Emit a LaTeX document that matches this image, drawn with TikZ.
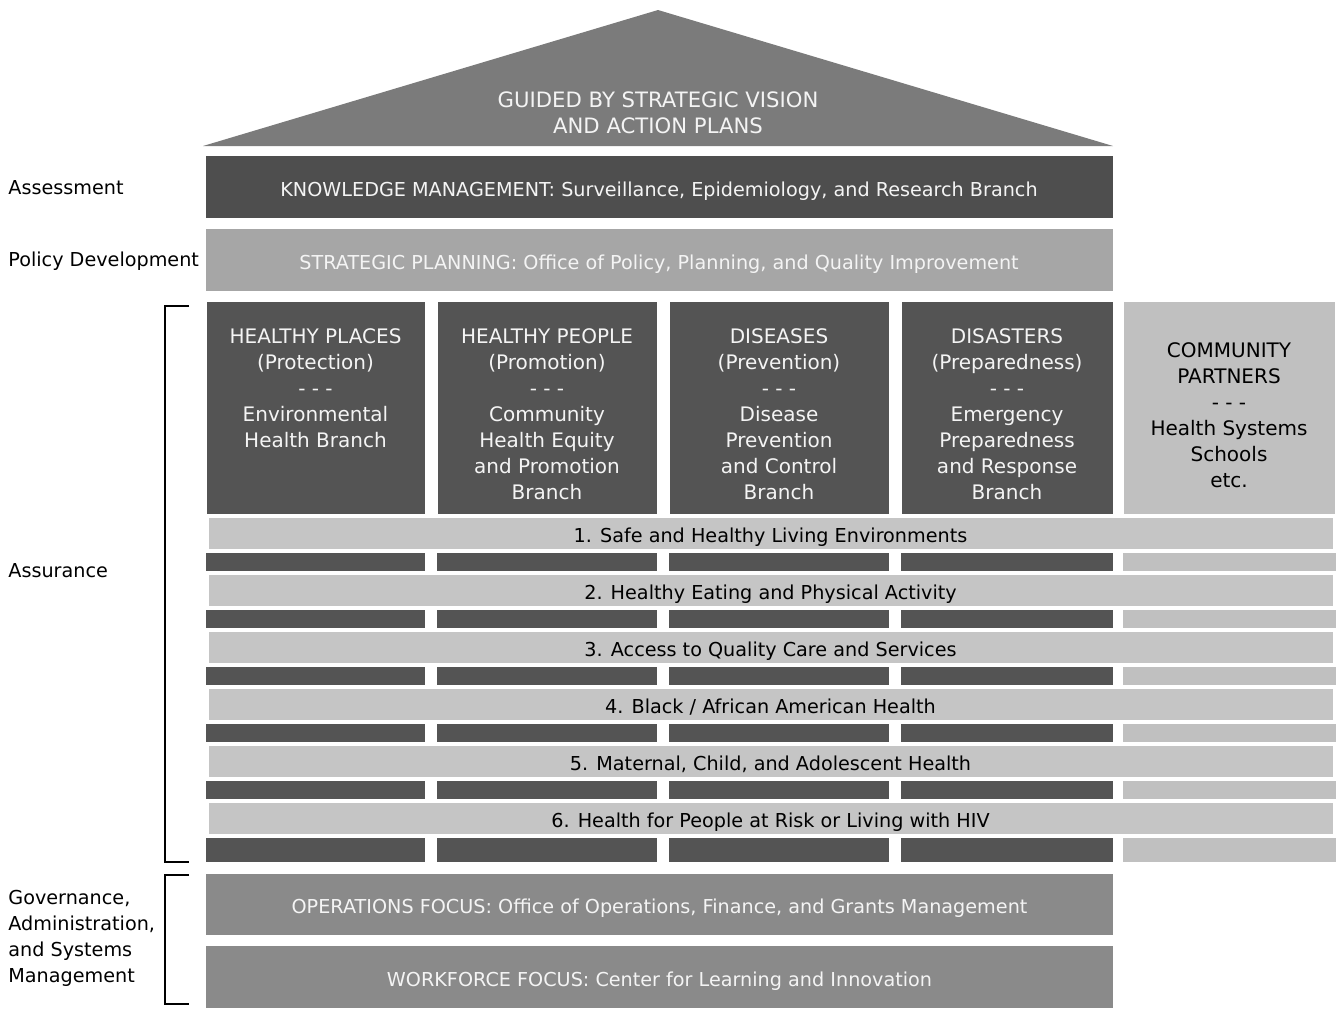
\documentclass[tikz,border=0pt]{standalone}
\usepackage{fontspec}
\setmainfont{DejaVu Sans}
\usepackage{xcolor}
\usepackage{tikz}
\usetikzlibrary{positioning}

\definecolor{roofgray}{HTML}{7B7B7B}
\definecolor{kmgray}{HTML}{4E4E4E}
\definecolor{spgray}{HTML}{A6A6A6}
\definecolor{colgray}{HTML}{545454}
\definecolor{bargray}{HTML}{C5C5C5}
\definecolor{cpgray}{HTML}{C0C0C0}
\definecolor{opsgray}{HTML}{8A8A8A}
\definecolor{paletext}{HTML}{F4F4F4}

\begin{document}
\begin{tikzpicture}[
    x = 0.5pt,
    y = -0.5pt,
    font = \fontsize{9.6}{13}\selectfont]
    \tikzstyle{block}=[rectangle,inner sep=0pt,draw=white,line width=0.3pt]
    \tikzstyle{wide}=[block,minimum width=454pt,text=paletext,text height=9.5pt,text depth=0pt]
    \tikzstyle{colbox}=[block,fill=colgray,minimum height=106.5pt]
    \tikzstyle{coltext}=[align=center,inner sep=0pt,text=paletext,font=\fontsize{10}{13}\selectfont]
    \tikzstyle{prio}=[block,fill=bargray,minimum width=562.5pt,minimum height=16pt,text height=9.5pt,text depth=0pt]
    \tikzstyle{side}=[anchor=west,align=left,inner sep=0pt]
    \tikzstyle{brace}=[line width=1.3pt]
    \useasboundingbox (0,0) rectangle (1342,1008);

    % roof
    \fill[roofgray] (203,146) -- (658,10) -- (1113,146) -- cycle;
    \node[coltext,font=\fontsize{10.6}{13}\selectfont] (roof) at (658,113)
      {GUIDED BY STRATEGIC VISION\\AND ACTION PLANS};

    \node[wide,fill=kmgray,minimum height=31.5pt] (km) at (659,186.5)
      {KNOWLEDGE MANAGEMENT: Surveillance, Epidemiology, and Research Branch};
    \node[wide,fill=spgray,minimum height=31.5pt] (sp) at (659,259.5)
      {STRATEGIC PLANNING: Office of Policy, Planning, and Quality Improvement};

    % branches
    \foreach \x/\w/\n/\t in {
        315.5/109.5/places/{HEALTHY PLACES\\(Protection)\\- - -\\Environmental\\Health Branch},
        547/110/people/{HEALTHY PEOPLE\\(Promotion)\\- - -\\Community\\Health Equity\\and Promotion\\Branch},
        779/110/diseases/{DISEASES\\(Prevention)\\- - -\\Disease\\Prevention\\and Control\\Branch},
        1007/106/disasters/{DISASTERS\\(Preparedness)\\- - -\\Emergency\\Preparedness\\and Response\\Branch}}
    {
      \node[colbox,minimum width=\w pt] (\n) at (\x,407.5) {};
      \node[coltext,below=14pt of \n.north] (\n text) {\t};
    }
    \node[block,fill=cpgray,minimum width=106pt,minimum height=106.5pt] (partners) at (1229,407.5) {};
    \node[coltext,text=black] (partners text) at (1229,415)
      {COMMUNITY\\PARTNERS\\- - -\\Health Systems\\Schools\\etc.};

    % strips between the priorities
    \foreach \r in {0,...,4}{
      \foreach \a/\b in {206/425,437/657,669/889,901/1113}
        \fill[colgray] (\a,{553+57*\r}) rectangle (\b,{571+57*\r});
      \fill[cpgray] (1123,{553+57*\r}) rectangle (1336,{571+57*\r});
    }
    \foreach \a/\b in {206/425,437/657,669/889,901/1113}
      \fill[colgray] (\a,838) rectangle (\b,862);
    \fill[cpgray] (1123,838) rectangle (1336,862);

    % priorities
    \foreach \i/\t in {
        1/Safe and Healthy Living Environments,
        2/Healthy Eating and Physical Activity,
        3/Access to Quality Care and Services,
        4/{Black / African American Health},
        5/{Maternal, Child, and Adolescent Health},
        6/Health for People at Risk or Living with HIV}
      \node[prio] (prio\i) at (770.5,{476+57*\i}) {\i. \t};

    \node[wide,fill=opsgray,minimum height=31pt] (ops) at (659.5,904)
      {OPERATIONS FOCUS: Office of Operations, Finance, and Grants Management};
    \node[wide,fill=opsgray,minimum height=31.5pt] (wf) at (659.5,976.5)
      {WORKFORCE FOCUS: Center for Learning and Innovation};

    % functions on the left
    \node[side] (assess) at (8,188) {Assessment};
    \node[side] (policy) at (8,261) {Policy Development};
    \node[side] (assure) at (8,571) {Assurance};
    \node[side] (govern) at (8,938) {Governance,\\Administration,\\and Systems\\Management};

    \draw[brace] (189,306) -- (165,306) -- (165,862) -- (189,862);
    \draw[brace] (189,875) -- (165,875) -- (165,1004) -- (189,1004);
  \end{tikzpicture}
\end{document}
